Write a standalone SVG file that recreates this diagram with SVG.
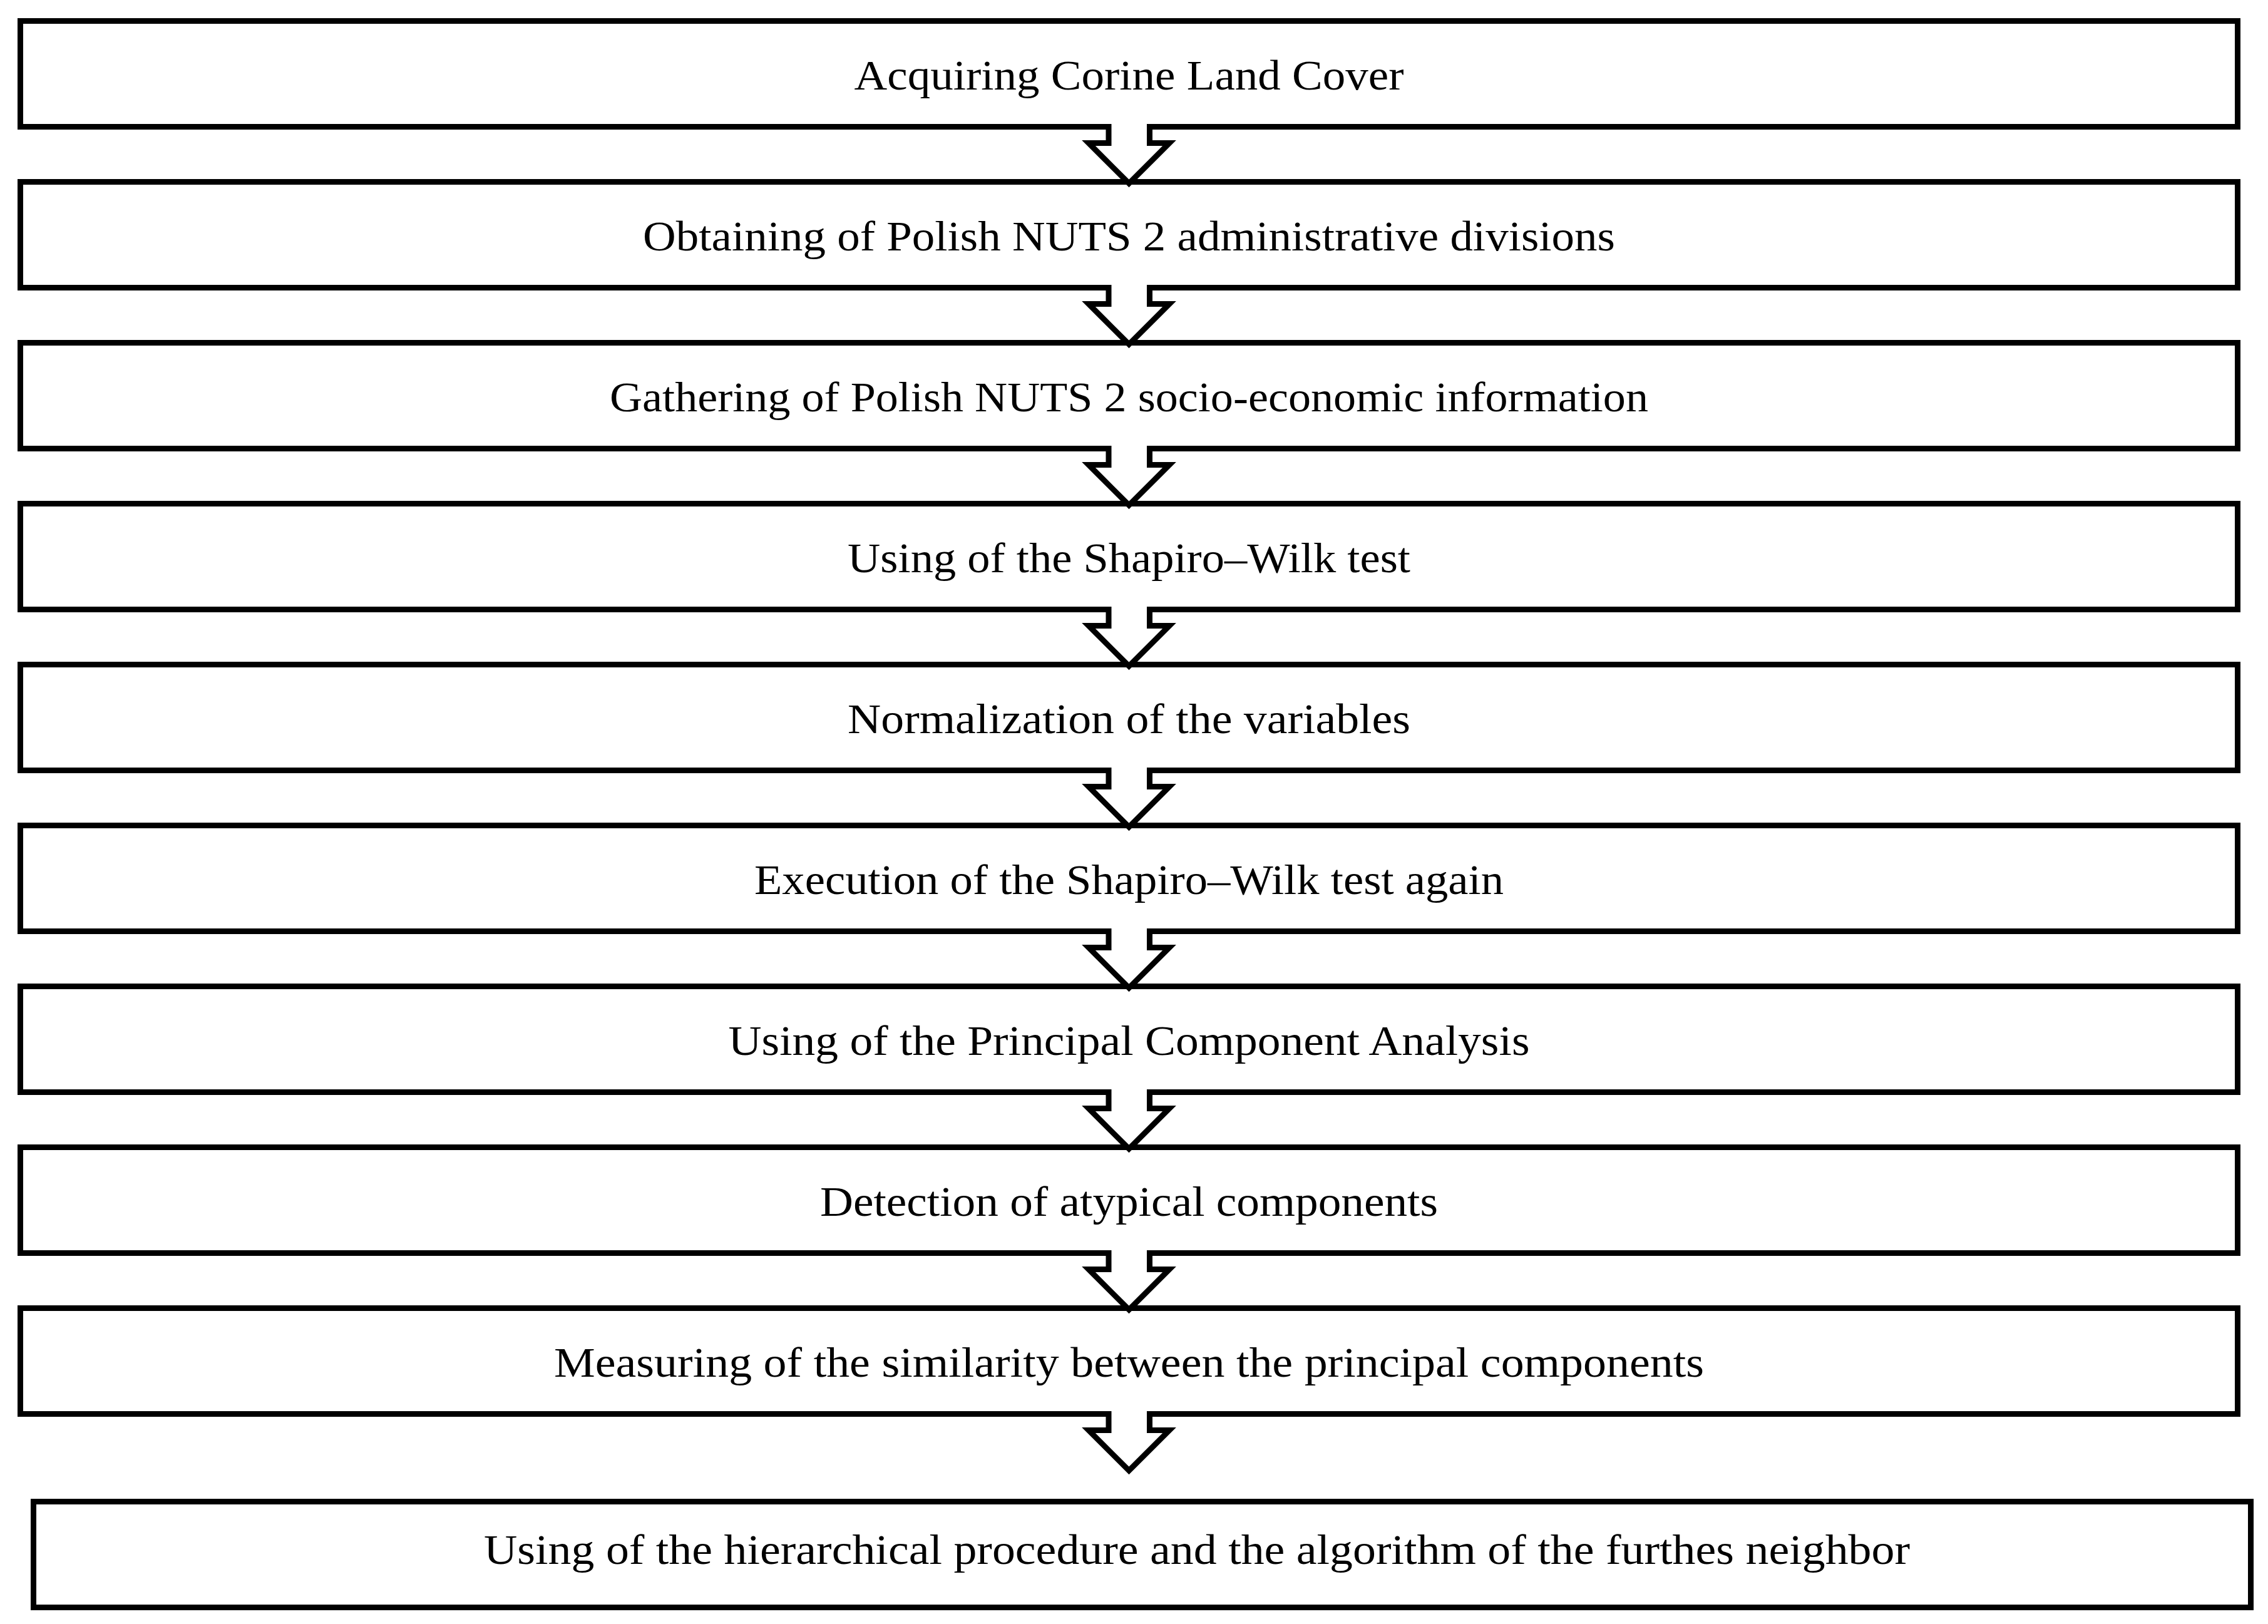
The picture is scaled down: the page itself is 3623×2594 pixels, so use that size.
<svg xmlns="http://www.w3.org/2000/svg" xmlns:xlink="http://www.w3.org/1999/xlink" width="3623" height="2594" viewBox="0 0 3623 2594">
  <style>
    .box { fill: #ffffff; stroke: #000000; stroke-width: 9; }
    .lbl { font-family: "Liberation Serif", serif; font-size: 68px; fill: #000000; text-anchor: middle; }
    .arr { fill: #ffffff; stroke: #000000; stroke-width: 9; stroke-linejoin: miter; stroke-miterlimit: 10; }
  </style>
  <defs>
    <path id="arrow" class="arr" d="M1771,-4.5 V26 H1739 L1803.5,90.5 L1868,26 H1836.5 V-4.5"/>
  </defs>
  <rect x="0" y="0" width="3623" height="2594" fill="#ffffff"/>

  <g id="n1"><rect class="box" x="32.5" y="33.5" width="3542" height="169"/>
    <text class="lbl" x="1803.5" y="142.5" textLength="878" lengthAdjust="spacingAndGlyphs">Acquiring Corine Land Cover</text></g>
  <g id="n2"><rect class="box" x="32.5" y="290.5" width="3542" height="169"/>
    <text class="lbl" x="1803.5" y="399.5" textLength="1553" lengthAdjust="spacingAndGlyphs">Obtaining of Polish NUTS 2 administrative divisions</text></g>
  <g id="n3"><rect class="box" x="32.5" y="547.5" width="3542" height="169"/>
    <text class="lbl" x="1803.5" y="656.5" textLength="1659" lengthAdjust="spacingAndGlyphs">Gathering of Polish NUTS 2 socio-economic information</text></g>
  <g id="n4"><rect class="box" x="32.5" y="804.5" width="3542" height="169"/>
    <text class="lbl" x="1803.5" y="913.5" textLength="899" lengthAdjust="spacingAndGlyphs">Using of the Shapiro–Wilk test</text></g>
  <g id="n5"><rect class="box" x="32.5" y="1061.5" width="3542" height="169"/>
    <text class="lbl" x="1803.5" y="1170.5" textLength="899" lengthAdjust="spacingAndGlyphs">Normalization of the variables</text></g>
  <g id="n6"><rect class="box" x="32.5" y="1318.5" width="3542" height="169"/>
    <text class="lbl" x="1803.5" y="1427.5" textLength="1197" lengthAdjust="spacingAndGlyphs">Execution of the Shapiro–Wilk test again</text></g>
  <g id="n7"><rect class="box" x="32.5" y="1575.5" width="3542" height="169"/>
    <text class="lbl" x="1803.5" y="1684.5" textLength="1280" lengthAdjust="spacingAndGlyphs">Using of the Principal Component Analysis</text></g>
  <g id="n8"><rect class="box" x="32.5" y="1832.5" width="3542" height="169"/>
    <text class="lbl" x="1803.5" y="1941.5" textLength="987" lengthAdjust="spacingAndGlyphs">Detection of atypical components</text></g>
  <g id="n9"><rect class="box" x="32.5" y="2089.5" width="3542" height="169"/>
    <text class="lbl" x="1803.5" y="2198.5" textLength="1837" lengthAdjust="spacingAndGlyphs">Measuring of the similarity between the principal components</text></g>
  <g id="n10"><rect class="box" x="53.5" y="2398.5" width="3542" height="169"/>
    <text class="lbl" x="1912" y="2498" textLength="2278" lengthAdjust="spacingAndGlyphs">Using of the hierarchical procedure and the algorithm of the furthes neighbor</text></g>

  <g id="connectors">
    <use xlink:href="#arrow" href="#arrow" y="202.5"/>
    <use xlink:href="#arrow" href="#arrow" y="459.5"/>
    <use xlink:href="#arrow" href="#arrow" y="716.5"/>
    <use xlink:href="#arrow" href="#arrow" y="973.5"/>
    <use xlink:href="#arrow" href="#arrow" y="1230.5"/>
    <use xlink:href="#arrow" href="#arrow" y="1487.5"/>
    <use xlink:href="#arrow" href="#arrow" y="1744.5"/>
    <use xlink:href="#arrow" href="#arrow" y="2001.5"/>
    <use xlink:href="#arrow" href="#arrow" y="2258.5"/>
  </g>
</svg>
